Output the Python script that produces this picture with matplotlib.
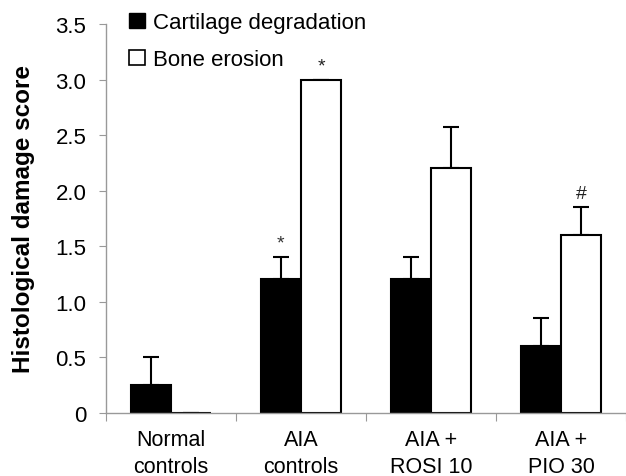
import matplotlib.pyplot as plt
from matplotlib.patches import Patch
import numpy as np

plt.rcParams['font.family'] = ['Liberation Sans', 'DejaVu Sans']

groups = ["Normal\ncontrols", "AIA\ncontrols", "AIA +\nROSI 10", "AIA +\nPIO 30"]
cartilage = [0.25, 1.2, 1.2, 0.6]
cartilage_err = [0.25, 0.2, 0.2, 0.25]
bone = [0.0, 3.0, 2.2, 1.6]
bone_err = [0.0, 0.0, 0.37, 0.25]
cart_marks = ["", "*", "", ""]
bone_marks = ["", "*", "", "#"]


def main():
    fig = plt.figure(figsize=(6.26, 4.77), dpi=100)
    ax = fig.add_axes([0.169, 0.1327, 0.831, 0.8145])

    x = np.arange(len(groups)) + 0.5
    w = 0.31
    xc = x - w / 2
    xb = x + w / 2

    ax.bar(xc, cartilage, w, color="black", edgecolor="black", linewidth=1.5, zorder=2)
    ax.bar(xb, bone, w, color="white", edgecolor="black", linewidth=1.5, zorder=2)
    ax.errorbar(xc, cartilage, yerr=[np.zeros(4), cartilage_err], fmt="none",
                ecolor="black", elinewidth=1.5, capsize=6, capthick=1.5, zorder=1)
    ax.errorbar(xb, bone, yerr=[np.zeros(4), bone_err], fmt="none",
                ecolor="black", elinewidth=1.5, capsize=6, capthick=1.5, zorder=1)

    for i in range(len(groups)):
        if cart_marks[i]:
            ax.text(xc[i], cartilage[i] + cartilage_err[i] + 0.05, cart_marks[i],
                    ha="center", va="bottom", fontsize=14, color="#333333")
        if bone_marks[i]:
            ax.text(xb[i], bone[i] + bone_err[i] + 0.05, bone_marks[i],
                    ha="center", va="bottom", fontsize=14, color="#222222")

    ax.set_xlim(0, 4)
    ax.set_ylim(0, 3.5)
    ax.set_yticks([0, 0.5, 1, 1.5, 2, 2.5, 3, 3.5])
    ax.set_yticklabels(["0", "0.5", "1.0", "1.5", "2.0", "2.5", "3.0", "3.5"])
    ax.set_xticks([0, 1, 2, 3, 4])
    ax.set_xticklabels([])
    ax.set_xticks(x, minor=True)
    ax.set_xticklabels(groups, minor=True, fontsize=15.5, linespacing=1.35)
    ax.tick_params(axis="x", which="minor", length=0, pad=12)
    ax.tick_params(axis="x", which="major", length=6, color="#999999", direction="out")
    ax.tick_params(axis="y", length=5, color="#999999", direction="out", labelsize=16, pad=9)

    for s in ["top", "right"]:
        ax.spines[s].set_visible(False)
    for s in ["left", "bottom"]:
        ax.spines[s].set_color("#999999")
        ax.spines[s].set_linewidth(1.0)

    ax.set_ylabel("Histological damage score", fontsize=17.5, fontweight="bold")
    ax.yaxis.set_label_coords(-0.137, 0.5)

    handles = [Patch(facecolor="black", edgecolor="black"),
               Patch(facecolor="white", edgecolor="black", linewidth=1.2)]
    fig.legend(handles, ["Cartilage degradation", "Bone erosion"], loc="upper left",
               bbox_to_anchor=(0.19, 0.993), frameon=False, fontsize=16,
               handlelength=0.72, handleheight=0.72, handletextpad=0.36, labelspacing=0.72,
               borderaxespad=0.25, borderpad=0.2)

    fig.savefig("out.png", dpi=100)


if __name__ == "__main__":
    main()
